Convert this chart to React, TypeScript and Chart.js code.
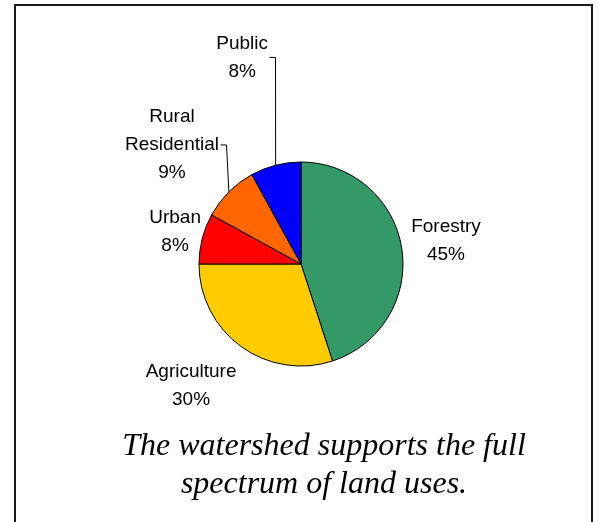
import React, { useEffect, useRef } from "react";
import { Chart, registerables } from "chart.js";

Chart.register(...registerables);

// ---- data ----
const categories = ["Forestry", "Agriculture", "Urban", "Rural Residential", "Public"];
const labelLines = [["Forestry"], ["Agriculture"], ["Urban"], ["Rural", "Residential"], ["Public"]];
const shares = [45, 30, 8, 9, 8];
const sliceColors = ["#339966", "#FFCC00", "#FF0000", "#FF6600", "#0000FF"];
const captionLines = ["The watershed supports the full", "spectrum of land uses."];

// ---- label placement (style only): gap beyond the rim, angle shift in degrees, leader line ----
const labelGap = [44.8, 62.3, 28, 73.5, 112.8];
const labelShift = [0, 6, 0, -2.3, -1.5];
const labelLeader = [false, false, false, true, true];

const labelPlugin = {
  id: "pieLabels",
  afterDatasetsDraw(chart: any) {
    const ctx: CanvasRenderingContext2D = chart.ctx;
    const meta = chart.getDatasetMeta(0);
    const total = shares.reduce((a, b) => a + b, 0);
    ctx.save();
    ctx.font = "19px 'Liberation Sans', Arial, sans-serif";
    ctx.fillStyle = "#000";
    ctx.textAlign = "center";
    ctx.textBaseline = "middle";
    meta.data.forEach((arc: any, i: number) => {
      const { x, y, startAngle, endAngle, outerRadius } = arc.getProps(
        ["x", "y", "startAngle", "endAngle", "outerRadius"],
        true
      );
      const mid = (startAngle + endAngle) / 2;
      const a = mid + (labelShift[i] * Math.PI) / 180;
      const d = outerRadius + labelGap[i];
      const cx = x + Math.cos(a) * d;
      const cy = y + Math.sin(a) * d;
      const lines = [...labelLines[i], Math.round((shares[i] / total) * 100) + "%"];
      const lh = 28;
      const top = cy - ((lines.length - 1) * lh) / 2;
      lines.forEach((t, k) => ctx.fillText(t, cx, top + k * lh));
      if (labelLeader[i]) {
        const w = Math.max(...lines.map((t) => ctx.measureText(t).width));
        const sx = cx + w / 2 + 1.5;
        ctx.beginPath();
        ctx.moveTo(sx, cy);
        ctx.lineTo(sx + 6, cy);
        ctx.lineTo(x + Math.cos(mid) * outerRadius, y + Math.sin(mid) * outerRadius);
        ctx.strokeStyle = "#000";
        ctx.lineWidth = 1;
        ctx.stroke();
      }
    });
    ctx.restore();
  },
};

export default function App() {
  const ref = useRef<HTMLCanvasElement | null>(null);

  useEffect(() => {
    if (!ref.current) return;
    const chart = new Chart(ref.current, {
      type: "pie",
      data: {
        labels: categories,
        datasets: [
          {
            data: shares,
            backgroundColor: sliceColors,
            borderColor: "#000",
            borderWidth: 1,
          },
        ],
      },
      options: {
        animation: false,
        responsive: false,
        events: [],
        layout: { padding: { left: 198.5, right: 194.5, top: 161.5, bottom: 155.5 } },
        plugins: {
          legend: { display: false },
          tooltip: { enabled: false },
          title: { display: false },
        },
      },
      plugins: [labelPlugin],
    });
    return () => chart.destroy();
  }, []);

  return (
    <div
      style={{
        position: "absolute",
        left: 0,
        top: 0,
        width: 598,
        height: 522,
        overflow: "hidden",
        background: "#fff",
      }}
    >
      <div
        style={{
          position: "absolute",
          left: 14,
          top: 4,
          width: 579,
          height: 600,
          boxSizing: "border-box",
          border: "2px solid #1a1a1a",
        }}
      />
      <canvas ref={ref} width={598} height={522} style={{ position: "absolute", left: 0, top: 0 }} />
      <div
        style={{
          position: "absolute",
          left: 74,
          top: 425,
          width: 500,
          textAlign: "center",
          fontFamily: "'Liberation Serif', 'Times New Roman', serif",
          fontStyle: "italic",
          fontSize: 32,
          lineHeight: "38px",
          color: "#000",
        }}
      >
        {captionLines.map((t, i) => (
          <div key={i}>{t}</div>
        ))}
      </div>
    </div>
  );
}
